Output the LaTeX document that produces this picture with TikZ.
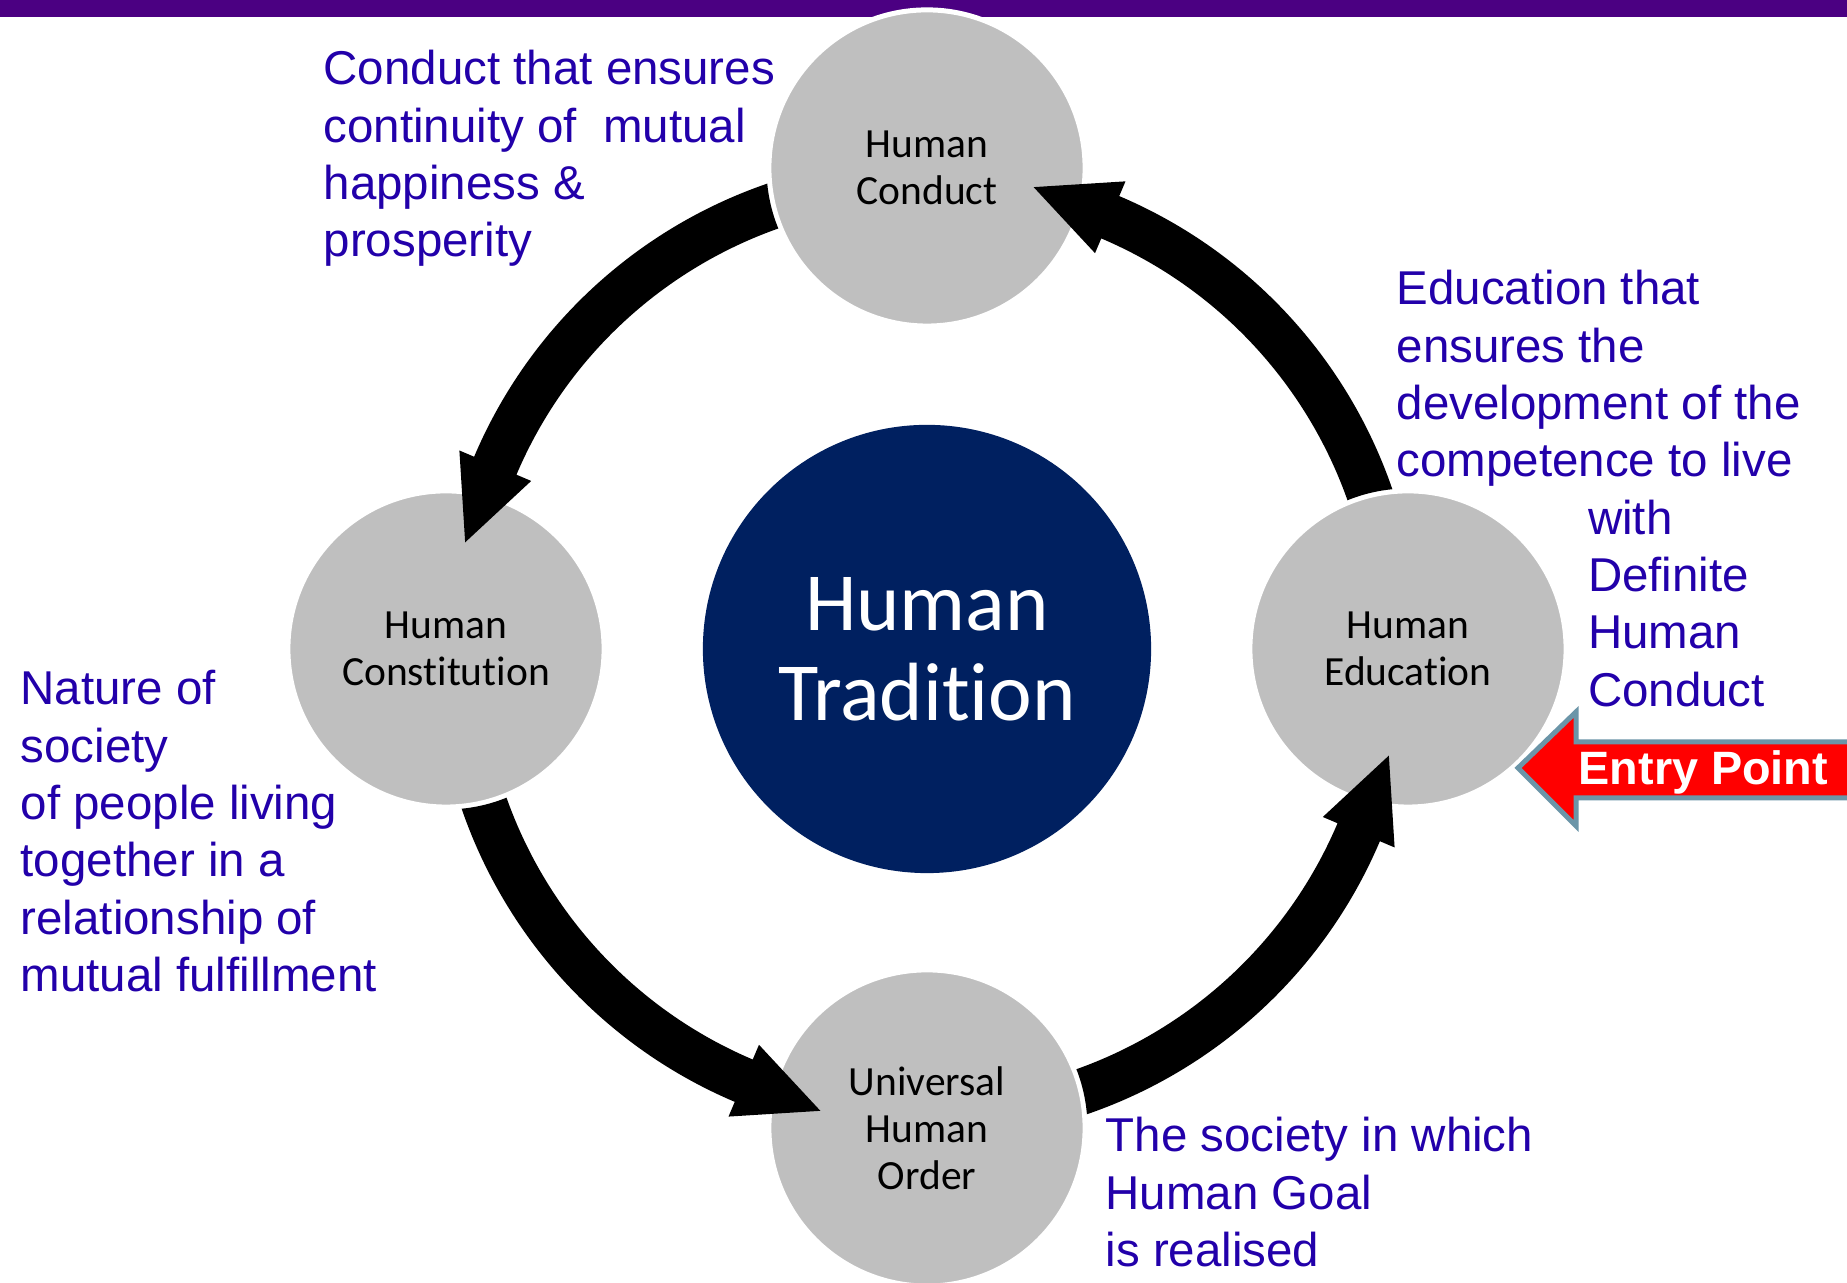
\documentclass[tikz,border=0pt]{standalone}
\usepackage{fontspec}
\setmainfont{Liberation Sans}
\newfontfamily\calfont[Ligatures=NoCommon]{Carlito}
\usetikzlibrary{calc}
\definecolor{bubblegray}{HTML}{BFBFBF}
\definecolor{navy}{HTML}{002060}
\definecolor{bluetext}{HTML}{2200AA}
\definecolor{barpurple}{HTML}{4B0082}
\definecolor{entryedge}{HTML}{6B95A8}
\begin{document}
\begin{tikzpicture}[x=0.01cm,y=0.01cm,
  bubble/.style={circle, fill=bubblegray, draw=white, line width=1.42pt,
    minimum size=3.16cm, inner sep=0pt, align=center,
    font=\calfont\fontsize{11.8}{13.3}\selectfont, text=black},
  centre/.style={circle, fill=navy, minimum size=4.48cm, inner sep=0pt,
    align=center, font=\calfont\fontsize{23.5}{25.5}\selectfont, text=white},
  note/.style={anchor=base west, inner sep=0pt, text=bluetext,
    font=\fontsize{13.5}{16.3}\selectfont},
  ringarrow/.style={fill=black}]
\clip (0,0) rectangle (1847,1283);
\fill[white] (0,0) rectangle (1847,1283);
% top bar
\fill[barpurple] (0,1266) rectangle (1847,1290);
% circles
\node[centre] (trad) at (927,634) {Human\\Tradition};
\node[bubble] (conduct) at (927,1115) {Human\\Conduct};
\node[bubble] (const) at (446,634) {Human\\Constitution};
\node[bubble] (edu) at (1408,634) {Human\\Education};
\node[bubble] (order) at (927,155) {Universal\\Human\\Order};
% curved arrows around the centre
\foreach \a/\src in {0/edu, 90/conduct, 180/const, 270/order} {
  \begin{scope}[even odd rule]
    \clip (-10,-10) rectangle (1860,1300) (\src.center) circle (160.5);
    \fill[ringarrow]
      ($(trad.center)+(\a+5:492)$) arc[start angle=\a+5, end angle=\a+67, radius=492]
      -- ($(trad.center)+(\a+67:508)$)
      -- ($(trad.center)+(\a+77:474)$)
      -- ($(trad.center)+(\a+67:430)$)
      -- ($(trad.center)+(\a+67:446)$)
      arc[start angle=\a+67, end angle=\a+5, radius=446] -- cycle;
  \end{scope}
}
% entry point arrow
\coordinate (entrytip) at (1518,515);
\draw[fill=red, draw=entryedge, line width=1.42pt, line join=miter]
  (entrytip) -- (1576,571) -- (1576,541) -- (1880,541) -- (1880,485)
  -- (1576,485) -- (1576,457) -- cycle;
\node[anchor=base west, inner sep=0pt, text=white,
  font=\bfseries\fontsize{13.3}{16}\selectfont] (entry) at (1578,498) {Entry Point};
% descriptions
\node[note] (conductnote) at (323,1198) {\vtop{\hbox{Conduct that ensures}\hbox{continuity of\ \ mutual}\hbox{happiness \&}\hbox{prosperity}}};
\node[note] (edunote) at (1396,978) {\vtop{\hbox{Education that}\hbox{ensures the}\hbox{development of the}\hbox{competence to live}\hbox{\hskip54.4pt with}\hbox{\hskip54.4pt Definite}\hbox{\hskip54.4pt Human}\hbox{\hskip54.4pt Conduct}}};
\node[note] (constnote) at (20,578) {\vtop{\hbox{Nature of}\hbox{society}\hbox{of people living}\hbox{together in a}\hbox{relationship of}\hbox{mutual fulfillment}}};
\node[note] (ordernote) at (1105,131) {\vtop{\hbox{The society in which}\hbox{Human Goal}\hbox{is realised}}};
\end{tikzpicture}
\end{document}
